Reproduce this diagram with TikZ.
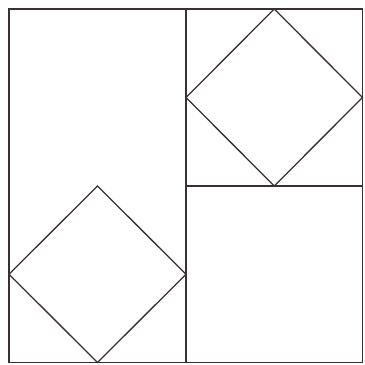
\documentclass[tikz,border=0pt]{standalone}
\definecolor{ln}{HTML}{3A3030}
\begin{document}
\begin{tikzpicture}[x=1pt,y=-1pt,edge/.style={draw=ln,line width=1.3pt}]
\useasboundingbox (0,0) rectangle (365,365);
\coordinate (A) at (9,9);
\coordinate (B) at (362.5,362.5);
\coordinate (M1) at (186,9);
\coordinate (M2) at (186,362.5);
\coordinate (H1) at (186,186);
\coordinate (H2) at (362.5,186);
\draw[edge] (A) rectangle (B);
\draw[edge] (M1) -- (M2);
\draw[edge] (H1) -- (H2);
% top-right diamond
\coordinate (t1) at (274.25,9);
\coordinate (t2) at (362.5,97.5);
\coordinate (t3) at (274.25,186);
\coordinate (t4) at (186,97.5);
\draw[edge] (t1) -- (t2) -- (t3) -- (t4) -- cycle;
% bottom-left diamond
\coordinate (b1) at (97.5,186);
\coordinate (b2) at (186,274.25);
\coordinate (b3) at (97.5,362.5);
\coordinate (b4) at (9,274.25);
\draw[edge] (b1) -- (b2) -- (b3) -- (b4) -- cycle;
\end{tikzpicture}
\end{document}
